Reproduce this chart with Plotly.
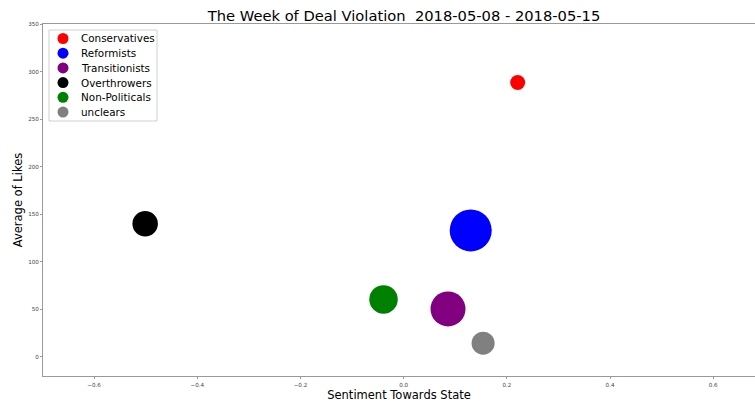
import plotly.graph_objects as go

# Groups, their sentiment towards the state, average likes and bubble size
groups = ["Conservatives", "Reformists", "Transitionists", "Overthrowers", "Non-Politicals", "unclears"]
sentiment = [0.221, 0.130, 0.086, -0.501, -0.039, 0.154]
avg_likes = [288.5, 133.0, 50.5, 140.0, 60.5, 14.5]
bubble_size = [15, 42, 35, 25.5, 28.5, 23]
colors = ["red", "blue", "purple", "black", "green", "gray"]

x_ticks = [-0.6, -0.4, -0.2, 0.0, 0.2, 0.4, 0.6]
y_ticks = [0, 50, 100, 150, 200, 250, 300, 350]

FONT = "DejaVu Sans"
W, H = 755, 405
ML, MR, MT, MB = 43, 0, 24, 29

fig = go.Figure()
for g, x, y, s, c in zip(groups, sentiment, avg_likes, bubble_size, colors):
    fig.add_trace(go.Scatter(
        x=[x], y=[y], mode="markers", name=g,
        marker=dict(size=s, color=c, line=dict(width=0)),
        showlegend=False,
    ))

# Legend drawn as a framed box of pixel-sized circles and labels
plot_w = W - ML - MR
plot_h = H - MT - MB
box_left_px, box_top_px = 49, 30
row_gap = 14.7
box_w, box_h = 108, 91
shapes = [dict(
    type="rect", xref="paper", yref="paper",
    xsizemode="pixel", ysizemode="pixel",
    xanchor=(box_left_px - ML) / plot_w,
    yanchor=1 - (box_top_px - MT) / plot_h,
    x0=0, x1=box_w, y0=0, y1=-box_h,
    line=dict(color="#d0d0d0", width=1), fillcolor="white", layer="above",
)]
annotations = []
for i, (g, c) in enumerate(zip(groups, colors)):
    cy = 1 - (box_top_px + 8.5 + i * row_gap - MT) / plot_h
    cx = (63 - ML) / plot_w
    shapes.append(dict(
        type="circle", xref="paper", yref="paper",
        xsizemode="pixel", ysizemode="pixel",
        xanchor=cx, yanchor=cy, x0=-5.5, x1=5.5, y0=-5.5, y1=5.5,
        fillcolor=c, line=dict(width=0), layer="above",
    ))
    annotations.append(dict(
        text=g, xref="paper", yref="paper",
        x=(79 - ML) / plot_w, y=cy, xanchor="left", yanchor="middle",
        showarrow=False, font=dict(family=FONT, size=10.4, color="black"),
    ))

axis_common = dict(
    showgrid=False, zeroline=False, showline=True, linecolor="#999999", linewidth=1,
    ticks="outside", ticklen=2, tickwidth=1, tickcolor="#999999",
    tickfont=dict(family=FONT, size=5.6, color="#444444"),
)

fig.update_layout(
    width=W, height=H,
    margin=dict(l=ML, r=MR, t=MT, b=MB),
    paper_bgcolor="white", plot_bgcolor="white",
    font=dict(family=FONT, color="black"),
    title=dict(
        text="The Week of Deal Violation  2018-05-08 - 2018-05-15",
        x=404 / W, xref="container", xanchor="center",
        y=1 - 16 / H, yref="container", yanchor="middle",
        font=dict(family=FONT, size=14.7, color="black"),
    ),
    xaxis=dict(
        range=[-0.699, 0.681], tickvals=x_ticks, tickformat=".1f",
        mirror=True, ticklabelstandoff=1,
        title=dict(text="Sentiment Towards State", standoff=4,
                   font=dict(family=FONT, size=11.5, color="black")),
        **axis_common,
    ),
    yaxis=dict(
        range=[-20, 350], tickvals=y_ticks,
        title=dict(text="Average of Likes", standoff=3,
                   font=dict(family=FONT, size=11.5, color="black")),
        **axis_common,
    ),
    shapes=shapes,
    annotations=annotations,
    showlegend=False,
)

fig.write_html("out.html")
